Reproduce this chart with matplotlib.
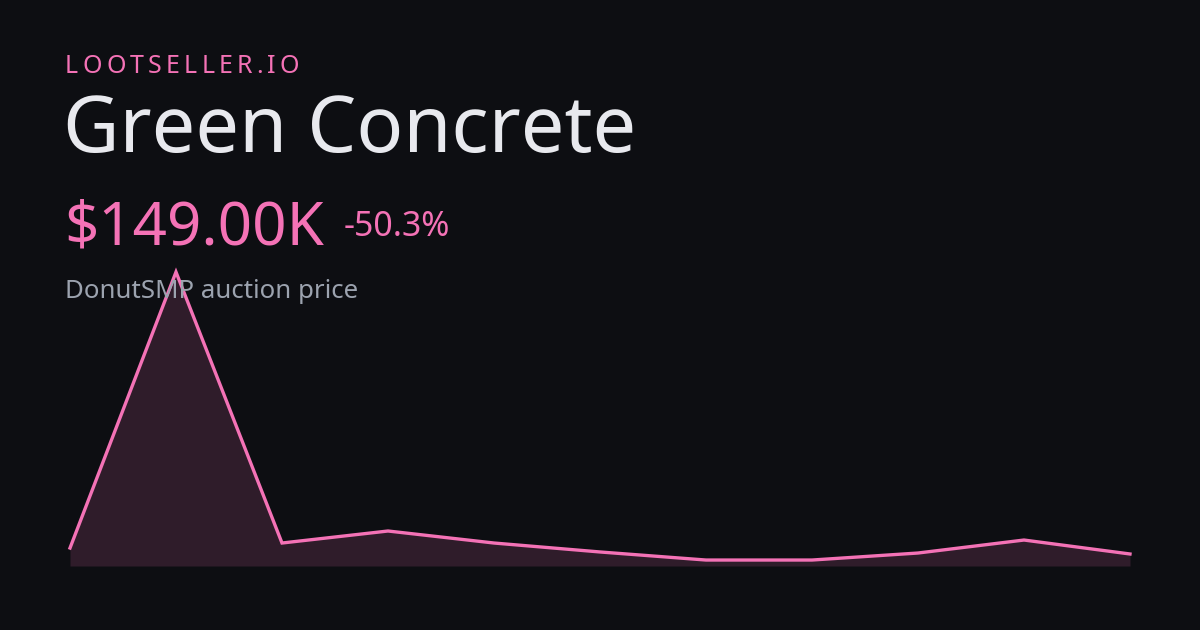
import matplotlib
matplotlib.use("Agg")
import matplotlib.pyplot as plt

# price history (thousands)
points = list(range(11))
prices = [223, 3646, 285, 434, 285, 174, 74, 74, 161, 322, 149]

brand = "LOOTSELLER.IO"
item_name = "Green Concrete"
price_label = "$149.00K"
change_label = "-50.3%"
caption = "DonutSMP auction price"

BG = "#0d0e12"
PINK = "#f472b6"
W, H = 1200, 630

plt.rcParams["font.family"] = ["Noto Sans", "DejaVu Sans"]

fig = plt.figure(figsize=(W / 100, H / 100), dpi=100, facecolor=BG)


def px(x, y):
    return x / W, 1 - y / H


# chart area: x 70..1130, baseline at y=566, peak at y=272
ax = fig.add_axes([70 / W, (H - 566) / H, 1060 / W, (566 - 272) / H])
ax.set_facecolor("none")
ax.fill_between(points, prices, 0, color=PINK, alpha=0.15, linewidth=0)
ax.plot(points, prices, color=PINK, linewidth=2.4, clip_on=False,
        solid_joinstyle="miter")
ax.set_xlim(points[0], points[-1])
ax.set_ylim(0, max(prices))
ax.axis("off")

# tracked brand text
renderer = fig.canvas.get_renderer()
x = 65
for ch in brand:
    t = fig.text(*px(x, 73), ch, color=PINK, fontsize=18, va="baseline",
                 ha="left")
    w = t.get_window_extent(renderer).width
    x += w + 4.2

fig.text(*px(63, 152), item_name, color="#e8e9ee", fontsize=55.9, va="baseline")
fig.text(*px(64, 245), price_label, color=PINK, fontsize=43.2, va="baseline")
fig.text(*px(344, 236), change_label, color=PINK, fontsize=24.4, va="baseline")
fig.text(*px(65, 298), caption, color="#9ca3af", fontsize=18.6, va="baseline")

fig.savefig("out.png", dpi=100, facecolor=BG)
